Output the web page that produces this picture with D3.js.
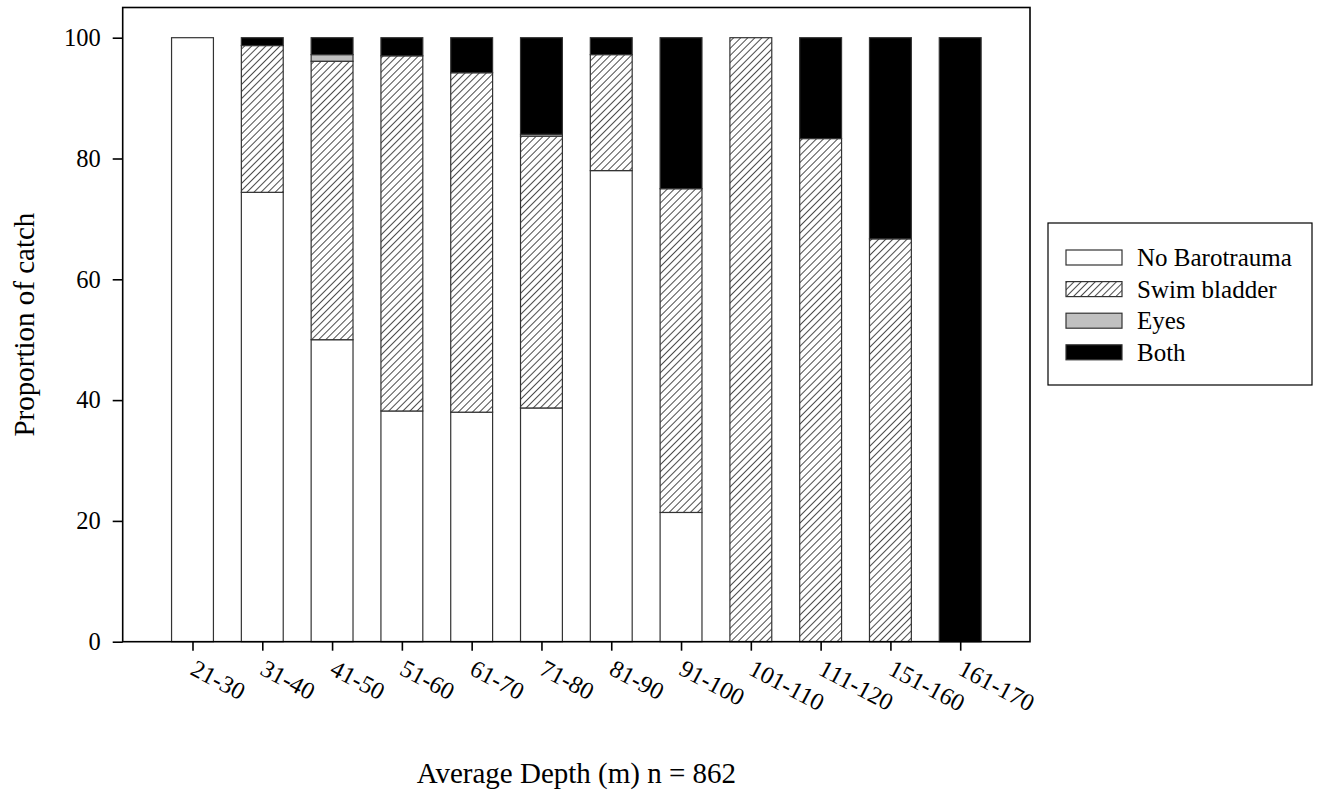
<!DOCTYPE html>
<html>
<head>
<meta charset="utf-8">
<script src="https://cdn.jsdelivr.net/npm/d3@7"></script>
<style>
  body { margin: 0; background: #fff; }
  svg { display: block; }
  text { font-family: "Liberation Serif", "Times New Roman", serif; fill: #000; }
</style>
</head>
<body>
<svg id="chart" width="1321" height="791"></svg>
<script>
// depth classes (m)
const depthBins = ['21-30', '31-40', '41-50', '51-60', '61-70', '71-80', '81-90',
  '91-100', '101-110', '111-120', '151-160', '161-170'];

// proportion of catch (%) per barotrauma category
const noBarotrauma = [100, 74.4, 50.0, 38.2, 38.0, 38.7, 78.0, 21.4, 0, 0, 0, 0];
const swimBladder  = [0, 24.3, 46.1, 58.8, 56.2, 45.0, 19.2, 53.6, 100, 83.3, 66.7, 0];
const eyes         = [0, 0, 1.1, 0, 0, 0.3, 0, 0, 0, 0, 0, 0];
const both         = [0, 1.3, 2.8, 3.0, 5.8, 16.0, 2.8, 25.0, 0, 16.7, 33.3, 100];

const yTicks = [0, 20, 40, 60, 80, 100];

const seriesNames = ['No Barotrauma', 'Swim bladder', 'Eyes', 'Both'];
const seriesValues = [noBarotrauma, swimBladder, eyes, both];

const svg = d3.select('#chart');

const plotL = 122.7, plotR = 1030, plotT = 7.5, plotB = 641.7;

const x = d3.scaleLinear().domain([0, depthBins.length + 1]).range([plotL, plotR]);
const y = d3.scaleLinear().domain([0, 105]).range([plotB, plotT]);
const barW = x(0.6) - x(0);

// hatch pattern for swim bladder
const defs = svg.append('defs');
const pat = defs.append('pattern')
  .attr('id', 'hatch')
  .attr('patternUnits', 'userSpaceOnUse')
  .attr('width', 5)
  .attr('height', 5)
  .attr('patternTransform', 'rotate(45)');
pat.append('rect').attr('width', 5).attr('height', 5).attr('fill', '#fff');
pat.append('line')
  .attr('x1', 0).attr('y1', 0).attr('x2', 0).attr('y2', 5)
  .attr('stroke', '#000').attr('stroke-width', 1.4);

const fills = ['#fff', 'url(#hatch)', '#c0c0c0', '#000'];

// stack segments
const rows = depthBins.map((bin, i) => {
  const row = { bin };
  seriesNames.forEach((s, k) => { row[s] = seriesValues[k][i]; });
  return row;
});
const stacked = d3.stack().keys(seriesNames)(rows);

const layers = svg.append('g')
  .selectAll('g')
  .data(stacked)
  .join('g')
  .attr('fill', (d, k) => fills[k]);

layers.selectAll('rect')
  .data(d => d.filter(s => s[1] - s[0] > 0))
  .join('rect')
  .attr('x', d => x(depthBins.indexOf(d.data.bin) + 1) - barW / 2)
  .attr('y', d => y(d[1]))
  .attr('width', barW)
  .attr('height', d => y(d[0]) - y(d[1]))
  .attr('stroke', '#333')
  .attr('stroke-width', 1.2);

// frame
svg.append('rect')
  .attr('x', plotL).attr('y', plotT)
  .attr('width', plotR - plotL).attr('height', plotB - plotT)
  .attr('fill', 'none').attr('stroke', '#000').attr('stroke-width', 1.6);

// y axis
const yAxis = svg.append('g')
  .attr('transform', `translate(${plotL},0)`)
  .call(d3.axisLeft(y).tickValues(yTicks).tickSize(10).tickPadding(12));
yAxis.select('.domain').remove();
yAxis.selectAll('line').attr('stroke', '#000').attr('stroke-width', 1.6);
yAxis.selectAll('text')
  .attr('font-family', '"Liberation Serif", serif')
  .attr('font-size', 24.5);

// x axis
const xAxis = svg.append('g')
  .attr('transform', `translate(0,${plotB})`)
  .call(d3.axisBottom(x)
    .tickValues(d3.range(1, depthBins.length + 1))
    .tickFormat(i => depthBins[i - 1])
    .tickSize(9));
xAxis.select('.domain').remove();
xAxis.selectAll('line').attr('stroke', '#000').attr('stroke-width', 1.6);
xAxis.selectAll('text')
  .attr('font-family', '"Liberation Serif", serif')
  .attr('font-size', 24.5)
  .attr('text-anchor', 'start')
  .attr('y', 0)
  .attr('dy', 0)
  .attr('transform', 'translate(-4,32) rotate(28)');

// axis titles
svg.append('text')
  .attr('transform', `translate(34,${(plotT + plotB) / 2}) rotate(-90)`)
  .attr('text-anchor', 'middle')
  .attr('font-size', 29)
  .text('Proportion of catch');

svg.append('text')
  .attr('x', (plotL + plotR) / 2)
  .attr('y', 783)
  .attr('text-anchor', 'middle')
  .attr('font-size', 29)
  .text('Average Depth (m) n = 862');

// legend
const lg = svg.append('g');
lg.append('rect')
  .attr('x', 1048).attr('y', 223).attr('width', 264).attr('height', 162)
  .attr('fill', '#fff').attr('stroke', '#000').attr('stroke-width', 1.2);

const items = lg.selectAll('g.item')
  .data(seriesNames)
  .join('g')
  .attr('class', 'item')
  .attr('transform', (d, i) => `translate(1066,${257.5 + i * 31.6})`);

items.append('rect')
  .attr('x', 0).attr('y', -7.5).attr('width', 56).attr('height', 15)
  .attr('fill', (d, i) => fills[i])
  .attr('stroke', '#333').attr('stroke-width', 1.2);

items.append('text')
  .attr('x', 71)
  .attr('dy', '0.35em')
  .attr('font-size', 25)
  .text(d => d);
</script>
</body>
</html>
